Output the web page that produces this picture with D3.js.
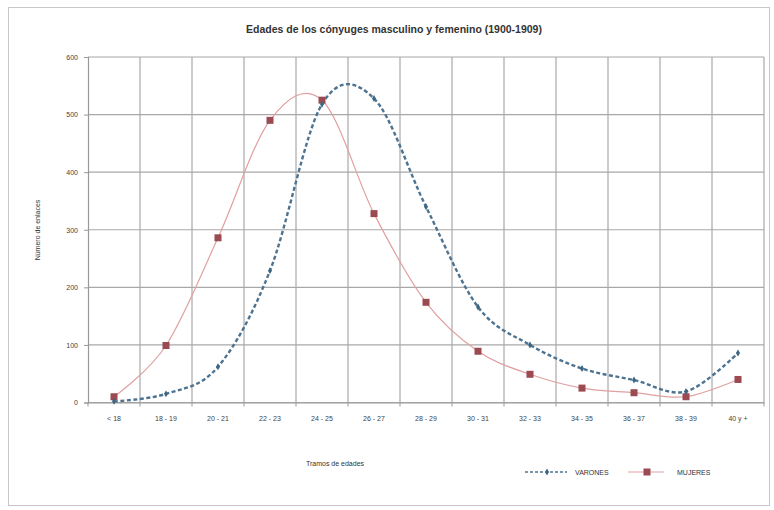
<!DOCTYPE html>
<html><head><meta charset="utf-8">
<script src="https://cdn.jsdelivr.net/npm/d3@7"></script>
<style>body{margin:0;background:#fff}svg{display:block}text{font-family:"Liberation Sans",Arial,sans-serif;fill:#333}</style>
</head><body><svg id="c" width="774" height="510"></svg>
<script>
const categories = ["< 18","18 - 19","20 - 21","22 - 23","24 - 25","26 - 27","28 - 29","30 - 31","32 - 33","34 - 35","36 - 37","38 - 39","40 y +"];
const varones = [2, 15, 62, 229, 518, 528, 340, 166, 100, 59, 39, 19, 86];
const mujeres = [10, 99, 286, 490, 525, 328, 174, 89, 49, 25, 17, 10, 40];
const yTicks = [0, 100, 200, 300, 400, 500, 600];
const title = "Edades de los cónyuges masculino y femenino (1900-1909)";

const svg = d3.select("#c");
svg.append("rect").attr("x",8.5).attr("y",7.5).attr("width",761).attr("height",498)
  .attr("fill","#fff").attr("stroke","#c8c8c8");

const L=88,R=764,T=57,B=402.5;
const x = d3.scaleBand().domain(categories).range([L,R]);
const y = d3.scaleLinear().domain([0,600]).range([B,T]);

svg.append("g").selectAll("line").data(yTicks).join("line")
  .attr("x1",L).attr("x2",R).attr("y1",d=>y(d)).attr("y2",d=>y(d))
  .attr("stroke","#a8a8a8").attr("stroke-width",1.2);
svg.append("g").selectAll("line").data(d3.range(1,categories.length+1)).join("line")
  .attr("x1",i=>L+i*x.step()).attr("x2",i=>L+i*x.step())
  .attr("y1",T).attr("y2",B).attr("stroke","#a8a8a8").attr("stroke-width",1.2);

const yAxis = svg.append("g").attr("transform",`translate(${L},0)`)
  .call(d3.axisLeft(y).tickValues(yTicks).tickSize(4).tickPadding(6));
const xAxis = svg.append("g").attr("transform",`translate(0,${B})`)
  .call(d3.axisBottom(x).tickSize(0).tickPadding(14));
[yAxis,xAxis].forEach(a=>{a.select(".domain").attr("stroke","#999").attr("stroke-width",1.2);
  a.selectAll("line").attr("stroke","#999");
  a.selectAll("text").attr("font-size",7).style("fill","#444");});
svg.append("g").selectAll("line").data(d3.range(categories.length+1)).join("line")
  .attr("x1",i=>L+i*x.step()).attr("x2",i=>L+i*x.step()).attr("y1",B).attr("y2",B+4).attr("stroke","#999");

const cx = d=>x(d)+x.bandwidth()/2;
const line = (vals)=>d3.line().x((d,i)=>cx(categories[i])).y(d=>y(d)).curve(d3.curveCardinal.tension(0))(vals);

svg.append("path").attr("d",line(mujeres)).attr("fill","none").attr("stroke","#e0a0a0").attr("stroke-width",1.2);
svg.append("path").attr("d",line(varones)).attr("fill","none").attr("stroke","#4d7391").attr("stroke-width",2.4).attr("stroke-dasharray","4,2.5");

svg.append("g").selectAll("rect").data(mujeres).join("rect")
  .attr("x",(d,i)=>cx(categories[i])-3.5).attr("y",d=>y(d)-3.5).attr("width",7).attr("height",7).attr("fill","#9a4a50");
svg.append("g").selectAll("path").data(varones).join("path")
  .attr("d",d3.symbol(d3.symbolDiamond,14)).attr("transform",(d,i)=>`translate(${cx(categories[i])},${y(d)})`).attr("fill","#3c6784");

svg.append("text").attr("x",394).attr("y",33).attr("text-anchor","middle").attr("font-size",10.5).attr("font-weight","bold").text(title);
svg.append("text").attr("transform","translate(40,230) rotate(-90)").attr("text-anchor","middle").attr("font-size",7).text("Número de enlaces");
svg.append("text").attr("x",335).attr("y",466).attr("text-anchor","middle").attr("font-size",7).text("Tramos de edades");

const lg = svg.append("g");
lg.append("line").attr("x1",525).attr("x2",567).attr("y1",472).attr("y2",472).attr("stroke","#4d7391").attr("stroke-width",1.5).attr("stroke-dasharray","3,2");
lg.append("path").attr("d",d3.symbol(d3.symbolDiamond,14)).attr("transform","translate(547,472)").attr("fill","#3c6784");
lg.append("text").attr("x",575).attr("y",474.5).attr("font-size",7).text("VARONES");
lg.append("line").attr("x1",628).attr("x2",664).attr("y1",472).attr("y2",472).attr("stroke","#e0a0a0").attr("stroke-width",1.2);
lg.append("rect").attr("x",643.5).attr("y",468.5).attr("width",7).attr("height",7).attr("fill","#9a4a50");
lg.append("text").attr("x",677).attr("y",474.5).attr("font-size",7).text("MUJERES");
</script></body></html>
